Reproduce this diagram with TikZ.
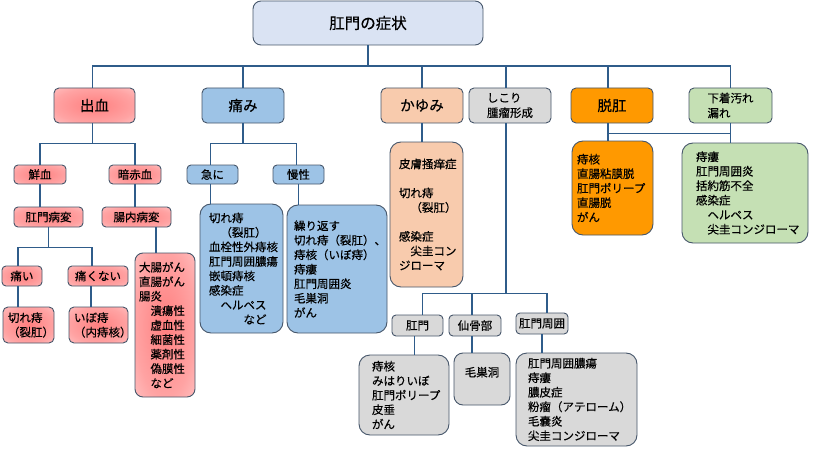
\documentclass[tikz,border=0pt]{standalone}
\usepackage{fontspec}
\setmainfont{Noto Sans CJK JP}[FakeBold=0.4]
\usetikzlibrary{calc}
\definecolor{bordc}{HTML}{46566A}
\definecolor{linec}{HTML}{2F5C8A}
\definecolor{topfill}{HTML}{DAE3F3}
\definecolor{painfill}{HTML}{9DC3E6}
\definecolor{itchfill}{HTML}{F8CBAD}
\definecolor{grayfill}{HTML}{D9D9D9}
\definecolor{orangefill}{HTML}{FF9900}
\definecolor{greenfill}{HTML}{C5E0B4}
\definecolor{redC}{HTML}{FF7F7F}
\definecolor{redM}{HTML}{FFA3A3}
\definecolor{redO}{HTML}{FFE0E0}
\pgfdeclareradialshading{redglow}{\pgfpoint{0bp}{0bp}}{color(0bp)=(redC); color(25bp)=(redM); color(50bp)=(redO)}
\begin{document}
\begin{tikzpicture}[x=1pt,y=-1pt,
  box/.style={draw=bordc, line width=0.9pt, rounded corners=4pt, inner sep=0pt, align=center,
    font=\fontsize{11.5}{14.5}\selectfont},
  lvl/.style={box, rounded corners=5pt, font=\fontsize{14.5}{16}\selectfont},
  bigbox/.style={box, rounded corners=11pt, align=left},
  redbox/.style={shade, shading=redglow},
  conn/.style={draw=linec, line width=1.6pt}]
\useasboundingbox (0,0) rectangle (820,452);

% top
\node[box, rounded corners=8pt, fill=topfill, minimum width=230, minimum height=44,
  font=\fontsize{15.5}{17}\selectfont] (top) at (368,23) {肛門の症状};

% level 1
\node[lvl, redbox, minimum width=81, minimum height=35] (bleed) at (94.5,105.5) {出血};
\node[lvl, fill=painfill, minimum width=82, minimum height=35] (pain) at (243,105.5) {痛み};
\node[lvl, fill=itchfill, minimum width=82, minimum height=35] (itch) at (422,105.5) {かゆみ};
\node[lvl, fill=grayfill, minimum width=82, minimum height=35, align=left,
  font=\fontsize{11.5}{15}\selectfont] (lump) at (510,105.5) {しこり\\腫瘤形成};
\node[lvl, fill=orangefill, minimum width=82, minimum height=35] (prolapse) at (612,105.5) {脱肛};
\node[lvl, fill=greenfill, minimum width=83, minimum height=35, align=left,
  font=\fontsize{11.5}{15}\selectfont] (soil) at (730.5,105.5) {下着汚れ\\漏れ};

% bleeding subtree
\node[box, redbox, minimum width=52, minimum height=19] (fresh) at (40,174.5) {鮮血};
\node[box, redbox, minimum width=52, minimum height=19] (dark) at (135,174.5) {暗赤血};
\node[box, redbox, minimum width=69, minimum height=20] (analles) at (48.5,217) {肛門病変};
\node[box, redbox, minimum width=69, minimum height=20] (intles) at (136.5,217) {腸内病変};
\node[box, redbox, minimum width=40, minimum height=20] (painful) at (22,276) {痛い};
\node[box, redbox, minimum width=60, minimum height=20] (painless) at (98,276) {痛くない};
\node[box, redbox, rounded corners=5pt, align=left, text width=41, minimum width=51, minimum height=36]
  (fissure) at (28.5,325) {切れ痔\\（裂肛）};
\node[box, redbox, rounded corners=5pt, align=left, text width=49, minimum width=59, minimum height=36]
  (hemor) at (98.5,325) {いぼ痔\\（内痔核）};
\node[bigbox, redbox, rounded corners=8pt, text width=52, minimum width=60, minimum height=144]
  (colon) at (165,325) {大腸がん\\直腸がん\\腸炎\\\hspace*{1em}潰瘍性\\\hspace*{1em}虚血性\\\hspace*{1em}細菌性\\\hspace*{1em}薬剤性\\\hspace*{1em}偽膜性\\\hspace*{1em}など};

% pain subtree
\node[box, fill=painfill, minimum width=51, minimum height=19] (sudden) at (212.5,174.5) {急に};
\node[box, fill=painfill, minimum width=51, minimum height=19] (chronic) at (298.5,174.5) {慢性};
\node[bigbox, fill=painfill, text width=65, minimum width=83, minimum height=129]
  (acute) at (241.5,268.5) {切れ痔\\\hspace*{1em}（裂肛）\\血栓性外痔核\\肛門周囲膿瘍\\嵌頓痔核\\感染症\\\hspace*{1em}ヘルペス\\\hspace*{3em}など};
\node[bigbox, fill=painfill, text width=86, minimum width=100, minimum height=128]
  (chronbox) at (337,269) {繰り返す\\切れ痔（裂肛）、\\痔核（いぼ痔）\\痔瘻\\肛門周囲炎\\毛巣洞\\がん};

% itch subtree
\node[bigbox, fill=itchfill, text width=55, minimum width=73, minimum height=145]
  (itchbox) at (426.5,214.5) {皮膚掻痒症\\\mbox{}\\切れ痔\\\hspace*{1em}（裂肛）\\\mbox{}\\感染症\\\hspace*{1em}尖圭コン\\ジローマ};

% lump subtree
\node[box, fill=grayfill, minimum width=51, minimum height=21] (anus) at (417.5,325.5) {肛門};
\node[box, fill=grayfill, minimum width=52, minimum height=21] (sacral) at (475,325.5) {仙骨部};
\node[box, fill=grayfill, minimum width=52, minimum height=21] (peri) at (542,323.5) {肛門周囲};
\node[bigbox, fill=grayfill, text width=64, minimum width=90, minimum height=80]
  (anusbox) at (404,395) {痔核\\みはりいぼ\\肛門ポリープ\\皮垂\\がん};
\node[box, fill=grayfill, rounded corners=9pt, minimum width=56, minimum height=52]
  (sacbox) at (482,379) {毛巣洞\\\mbox{}};
\node[bigbox, fill=grayfill, text width=97, minimum width=121, minimum height=93]
  (peribox) at (576.5,399.5) {肛門周囲膿瘍\\痔瘻\\膿皮症\\粉瘤（アテローム）\\毛嚢炎\\尖圭コンジローマ};

% prolapse / soiling subtree
\node[bigbox, fill=orangefill, text width=71, minimum width=81, minimum height=94]
  (probox) at (612.5,188) {痔核\\直腸粘膜脱\\肛門ポリープ\\直腸脱\\がん};
\node[bigbox, fill=greenfill, text width=98, minimum width=126, minimum height=100]
  (soilbox) at (745,193) {痔瘻\\肛門周囲炎\\括約筋不全\\感染症\\\hspace*{1em}ヘルペス\\\hspace*{1em}尖圭コンジローマ};

% connectors: top level
\coordinate (hub) at (368,66);
\draw[conn] (top.south) -- (hub);
\draw[conn] ([xshift=-2]bleed.north) |- (hub) -| (soil.north);
\draw[conn] (pain.north) -- (pain.north |- hub);
\draw[conn] (itch.north) -- (itch.north |- hub);
\draw[conn] ([xshift=-4]lump.north) -- ([xshift=-4]lump.north |- hub);
\draw[conn] ([xshift=-4]prolapse.north) -- ([xshift=-4]prolapse.north |- hub);

% bleeding connectors
\path ([xshift=-2]bleed.south) ++(0,20) coordinate (hb);
\draw[conn] ([xshift=-2]bleed.south) -- (hb);
\draw[conn] (fresh.north) |- (hb) -| (dark.north);
\draw[conn] (fresh.south) -- (fresh.south |- analles.north);
\draw[conn] (dark.south) -- (dark.south |- intles.north);
\path (analles.south) ++(0,20) coordinate (ha);
\draw[conn] (analles.south) -- (ha);
\draw[conn] ([xshift=-4]painful.north) |- (ha) -| ([xshift=-6]painless.north);
\draw[conn] ([xshift=-4]painful.south) -- ([xshift=-4]painful.south |- fissure.north);
\draw[conn] ([xshift=-7]painless.south) -- ([xshift=-7]painless.south |- hemor.north);
\draw[conn] ([xshift=19.5]intles.south) -- ([xshift=19.5]intles.south |- colon.north);

% pain connectors
\path (pain.south) ++(0,20) coordinate (hp);
\draw[conn] (pain.south) -- (hp);
\draw[conn] ([xshift=-2]sudden.north) |- (hp) -| ([xshift=-2]chronic.north);
\draw[conn] ([xshift=-2]sudden.south) -- ([xshift=-2]sudden.south |- acute.north);
\draw[conn] (chronic.south) -- (chronic.south |- chronbox.north);

% itch connector
\draw[conn] (itch.south) -- (itch.south |- itchbox.north);

% lump connectors
\path ([xshift=-4]lump.south) ++(0,170) coordinate (hl);
\draw[conn] ([xshift=-4]lump.south) -- (hl);
\draw[conn] ([xshift=5]anus.north) |- (hl) -| ([xshift=5]peri.north);
\draw[conn] ([xshift=-3]sacral.north) -- ([xshift=-3]sacral.north |- hl);
\draw[conn] ([xshift=-3]anus.south) -- ([xshift=-3]anus.south |- anusbox.north);
\draw[conn] ([xshift=-3]sacral.south) -- ([xshift=-3]sacral.south |- sacbox.north);
\draw[conn] (peri.south) -- (peri.south |- peribox.north);

% prolapse connectors
\path ([xshift=-4]prolapse.south) ++(0,10) coordinate (hd);
\draw[conn] ([xshift=-4]prolapse.south) -- ([xshift=-4]prolapse.south |- probox.north);
\draw[conn] (soil.south) -- (soil.south |- soilbox.north);
\draw[conn] (hd) -- (hd -| soil.south);
\end{tikzpicture}
\end{document}
